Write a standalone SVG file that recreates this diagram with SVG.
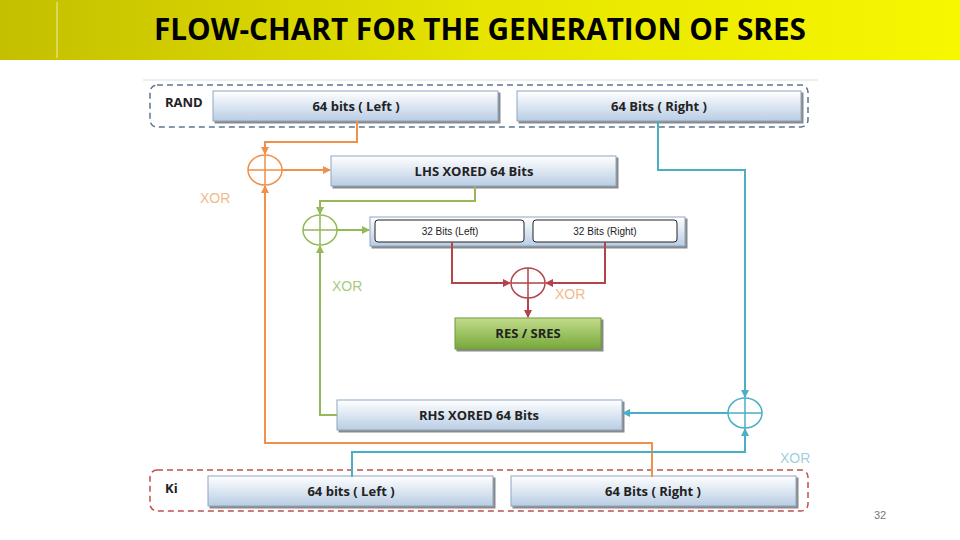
<svg xmlns="http://www.w3.org/2000/svg" width="960" height="540" viewBox="0 0 960 540">
<defs>
<linearGradient id="hdr" x1="0" y1="0" x2="1" y2="0"><stop offset="0" stop-color="#c4bf00"/><stop offset="0.5" stop-color="#e6e400"/><stop offset="1" stop-color="#f7f700"/></linearGradient>
<linearGradient id="blue" x1="0" y1="0" x2="0" y2="1"><stop offset="0" stop-color="#ffffff"/><stop offset="1" stop-color="#b9cde4"/></linearGradient>
<linearGradient id="green" x1="0" y1="0" x2="0" y2="1"><stop offset="0" stop-color="#c3dc8c"/><stop offset="1" stop-color="#76a83a"/></linearGradient>
<marker id="aO" markerWidth="8" markerHeight="8" refX="7" refY="4" orient="auto" markerUnits="userSpaceOnUse"><path d="M0,0L8,4L0,8z" fill="#f0904a"/></marker>
<marker id="aG" markerWidth="8" markerHeight="8" refX="7" refY="4" orient="auto" markerUnits="userSpaceOnUse"><path d="M0,0L8,4L0,8z" fill="#95b957"/></marker>
<marker id="aR" markerWidth="8" markerHeight="8" refX="7" refY="4" orient="auto" markerUnits="userSpaceOnUse"><path d="M0,0L8,4L0,8z" fill="#b5434a"/></marker>
<marker id="aB" markerWidth="8" markerHeight="8" refX="7" refY="4" orient="auto" markerUnits="userSpaceOnUse"><path d="M0,0L8,4L0,8z" fill="#4aaec6"/></marker>
</defs>
<style>
.box{fill:url(#blue);stroke:#8fa6c2;stroke-width:1;filter:drop-shadow(2px 2px 0 #8a8a8a)}
.t{font-family:"Open Sans","Noto Sans",sans-serif;font-weight:bold;font-size:13px;fill:#222;text-anchor:middle}
.x{font-family:"Liberation Sans",sans-serif;font-size:14px}
.ln{fill:none;stroke-width:2}
</style>
<rect x="0" y="0" width="960" height="60" fill="url(#hdr)"/>
<line x1="57" y1="2" x2="57" y2="58" stroke="#fff" stroke-width="1" opacity="0.7"/>
<text x="480" y="40" font-family="'Open Sans','Noto Sans',sans-serif" font-weight="bold" font-size="30" text-anchor="middle" textLength="652" lengthAdjust="spacingAndGlyphs" fill="#000">FLOW-CHART FOR THE GENERATION OF SRES</text>
<line x1="143" y1="80" x2="818" y2="80" stroke="#ddd" stroke-width="1"/>

<g id="rand">
<rect x="150" y="85" width="658" height="42" rx="7" fill="none" stroke="#5b7594" stroke-dasharray="6,4" stroke-width="1.5"/>
<text x="165" y="107" class="t" style="text-anchor:start">RAND</text>
</g>
<g id="randL"><rect class="box" x="213" y="91" width="285" height="30"/><text class="t" x="356" y="111">64 bits ( Left )</text></g>
<g id="randR"><rect class="box" x="517" y="91" width="284" height="30"/><text class="t" x="659" y="111">64 Bits ( Right )</text></g>
<g id="lhs"><rect class="box" x="331" y="156" width="285" height="30"/><text class="t" x="474" y="176">LHS XORED 64 Bits</text></g>
<g id="split"><rect class="box" x="370" y="217" width="315" height="29"/>
<rect x="375" y="220" width="149" height="22" rx="3" fill="#fff" stroke="#222"/><text x="450" y="235" font-family="'Liberation Sans',sans-serif" font-size="10" text-anchor="middle" fill="#222">32 Bits (Left)</text>
<rect x="533" y="220" width="144" height="22" rx="3" fill="#fff" stroke="#222"/><text x="605" y="235" font-family="'Liberation Sans',sans-serif" font-size="10" text-anchor="middle" fill="#222">32 Bits (Right)</text></g>
<g id="res"><rect x="455" y="318" width="146" height="31" fill="url(#green)" stroke="#6e9a3a" style="filter:drop-shadow(2px 2px 0 #8a8a8a)"/><text class="t" x="528" y="338">RES / SRES</text></g>
<g id="rhs"><rect class="box" x="337" y="400" width="285" height="30"/><text class="t" x="479" y="420">RHS XORED 64 Bits</text></g>
<g id="ki">
<rect x="150" y="470" width="658" height="41" rx="7" fill="none" stroke="#c0504d" stroke-dasharray="6,4" stroke-width="1.5"/>
<text x="165" y="493" class="t" style="text-anchor:start">Ki</text>
</g>
<g id="kiL"><rect class="box" x="208" y="476" width="285" height="30"/><text class="t" x="351" y="496">64 bits ( Left )</text></g>
<g id="kiR"><rect class="box" x="511" y="476" width="285" height="30"/><text class="t" x="653" y="496">64 Bits ( Right )</text></g>

<g id="xor1"><ellipse cx="265" cy="170" rx="17" ry="15" fill="none" stroke="#f0904a" stroke-width="1.5"/><path d="M248,170H282M265,155V185" stroke="#f0904a" stroke-width="1.5"/><text class="x" x="200" y="203" fill="#f2b98a">XOR</text></g>
<g id="xor2"><ellipse cx="320" cy="230" rx="17" ry="15" fill="none" stroke="#95b957" stroke-width="1.5"/><path d="M303,230H337M320,215V245" stroke="#95b957" stroke-width="1.5"/><text class="x" x="332" y="291" fill="#a9c97e">XOR</text></g>
<g id="xor3"><ellipse cx="528" cy="283" rx="17" ry="15" fill="none" stroke="#b5434a" stroke-width="1.5"/><path d="M511,283H545M528,268V298" stroke="#b5434a" stroke-width="1.5"/><text class="x" x="555" y="299" fill="#f2b98a">XOR</text></g>
<g id="xor4"><ellipse cx="745" cy="413" rx="17" ry="15" fill="none" stroke="#4aaec6" stroke-width="1.5"/><path d="M728,413H762M745,398V428" stroke="#4aaec6" stroke-width="1.5"/><text class="x" x="780" y="463" fill="#9fd0dd">XOR</text></g>

<g id="connectors">
<path class="ln" stroke="#f0904a" d="M357,121V142H265V154" marker-end="url(#aO)"/>
<path class="ln" stroke="#f0904a" d="M282,170H330" marker-end="url(#aO)"/>
<path class="ln" stroke="#f0904a" d="M652,477V443H265V186" marker-end="url(#aO)" stroke-width="1.5"/>
<path class="ln" stroke="#95b957" d="M475,186V201H320V214" marker-end="url(#aG)" stroke-width="1.5"/>
<path class="ln" stroke="#95b957" d="M337,230H369" marker-end="url(#aG)"/>
<path class="ln" stroke="#95b957" d="M337,415H320V246" marker-end="url(#aG)"/>
<path class="ln" stroke="#b5434a" d="M452,242V283H510" marker-end="url(#aR)" stroke-width="1.5"/>
<path class="ln" stroke="#b5434a" d="M605,242V283H546" marker-end="url(#aR)" stroke-width="1.5"/>
<path class="ln" stroke="#b5434a" d="M528,298V317" marker-end="url(#aR)" stroke-width="1.5"/>
<path class="ln" stroke="#4aaec6" d="M658,121V170H745V397" marker-end="url(#aB)"/>
<path class="ln" stroke="#4aaec6" d="M728,413H623" marker-end="url(#aB)"/>
<path class="ln" stroke="#4aaec6" d="M352,477V452H745V429" marker-end="url(#aB)" stroke-width="1.5"/>
</g>
<text x="880" y="519" font-family="'Liberation Sans',sans-serif" font-size="11" fill="#777" text-anchor="middle">32</text>
</svg>
